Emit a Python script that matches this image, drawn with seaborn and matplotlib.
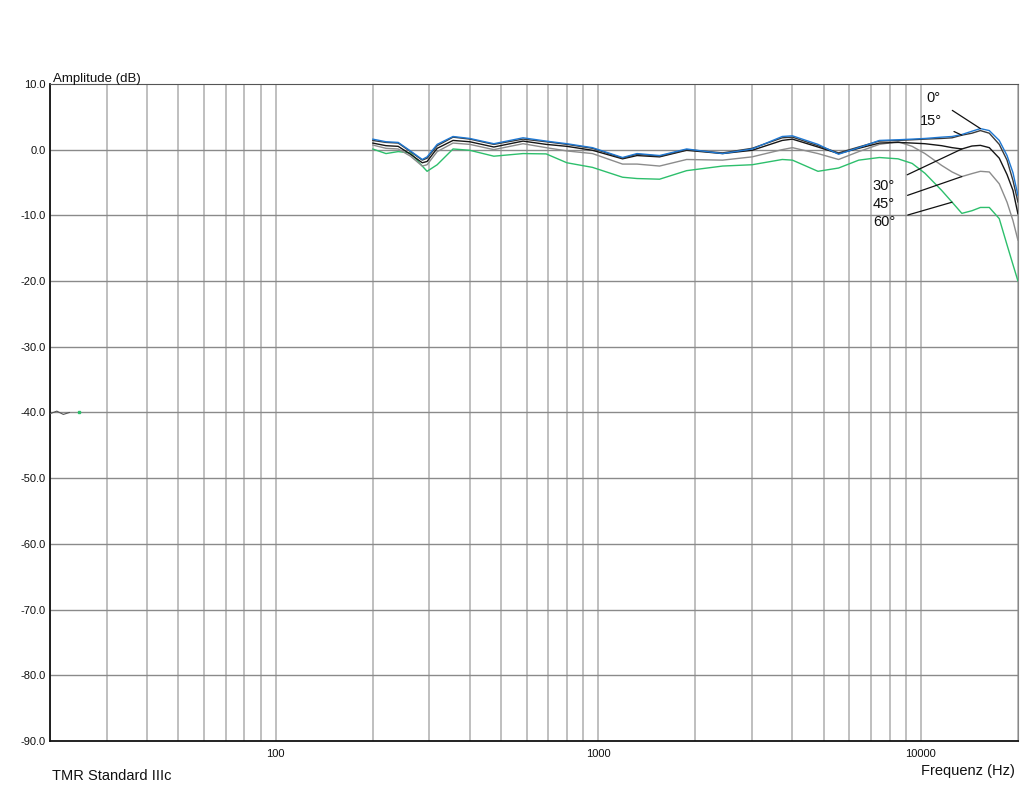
import numpy as np
import pandas as pd
import matplotlib
matplotlib.use('Agg')
import matplotlib.pyplot as plt
import seaborn as sns

# частоты, Гц
freq = [200, 220, 240, 262, 285, 295, 317, 355, 400, 475, 585, 690, 800, 960,
        1190, 1320, 1550, 1880, 2430, 3000, 3720, 4000, 4800, 5560, 6420, 7440,
        8500, 9400, 10300, 11600, 12500, 13400, 14400, 15300, 16300, 17500,
        18500, 19300, 20000]

# уровни, дБ
deg0 = [1.6, 1.2, 1.1, -0.2, -1.5, -1.1, 0.8, 2.0, 1.7, 0.9, 1.8, 1.3, 0.9, 0.3,
        -1.2, -0.6, -0.9, 0.1, -0.6, 0.1, 2.0, 2.1, 0.8, -0.7, 0.3, 1.4,
        1.5, 1.6, 1.7, 1.9, 2.0, 2.3, 2.8, 3.2, 2.9, 1.4,
        -0.9, -3.5, -7.0]
deg15 = [1.4, 1.1, 1.0, -0.3, -1.6, -1.3, 0.6, 1.9, 1.6, 0.8, 1.6, 1.2, 0.8, 0.2,
         -1.3, -0.7, -1.0, 0.0, -0.5, 0.2, 1.8, 1.9, 0.6, -0.5, 0.4, 1.3,
         1.4, 1.5, 1.6, 1.7, 1.8, 2.2, 2.5, 2.9, 2.5, 0.8,
         -1.6, -4.7, -8.0]
deg30 = [1.0, 0.6, 0.5, -0.7, -2.0, -1.8, 0.2, 1.4, 1.2, 0.4, 1.3, 0.8, 0.5, -0.1,
         -1.4, -0.9, -1.1, -0.1, -0.6, -0.1, 1.4, 1.6, 0.4, -0.6, 0.2, 1.0,
         1.1, 1.0, 0.9, 0.6, 0.3, 0.1, 0.55, 0.65, 0.3, -1.3,
         -3.8, -6.2, -9.8]
deg45 = [0.7, 0.2, 0.1, -1.0, -2.5, -2.3, -0.3, 1.0, 0.8, 0.0, 0.9, 0.3, -0.2, -0.6,
         -2.2, -2.2, -2.5, -1.5, -1.6, -1.1, 0.0, 0.3, -0.6, -1.5, -0.3, 0.8,
         1.2, 0.5, -0.6, -2.4, -3.4, -4.1, -3.65, -3.3, -3.4, -5.2,
         -8.0, -10.8, -13.8]
deg60 = [0.1, -0.6, -0.3, -0.5, -2.5, -3.3, -2.3, 0.1, -0.1, -1.0, -0.6, -0.65, -2.0, -2.7,
         -4.2, -4.4, -4.5, -3.2, -2.5, -2.3, -1.5, -1.6, -3.3, -2.8, -1.6, -1.2,
         -1.4, -2.1, -3.6, -6.2, -8.0, -9.7, -9.3, -8.8, -8.8, -10.5,
         -14.5, -17.5, -20.0]

angles = ['60°', '45°', '30°', '15°', '0°']
colors = {'0°': '#1f78d2', '15°': '#3a3a3a', '30°': '#161616',
          '45°': '#8c8c8c', '60°': '#2dbf6c'}

# мусор у левого края на -40 дБ
stray_freq = [20, 21, 22, 23]
stray_db = [-40.2, -39.8, -40.3, -40.0]
stray_dot_freq = [24.6]
stray_dot_db = [-40.0]

series = {'0°': deg0, '15°': deg15, '30°': deg30, '45°': deg45, '60°': deg60}
df = pd.concat([pd.DataFrame({'freq': freq, 'db': v, 'angle': k})
                for k, v in series.items()], ignore_index=True)

sns.set_style('white')
plt.rcParams['font.family'] = ['Liberation Sans Narrow', 'Liberation Sans', 'DejaVu Sans']

fig = plt.figure(figsize=(10.24, 7.94), dpi=100)
ax = fig.add_axes([0.0488, 0.0668, 0.9453, 0.8275])

ax.set_xscale('log')
ax.set_xlim(20, 20000)
ax.set_ylim(-90, 10)

# сетка
minor = [m * d for d in (10, 100, 1000) for m in range(2, 10)] + [20000]
for f in minor + [100, 1000, 10000]:
    ax.axvline(f, color='#b4b4b4', lw=1.2, zorder=1)
for y in range(-80, 10, 10):
    ax.axhline(y, color='#8a8a8a', lw=1.0, zorder=1)

sns.lineplot(data=df, x='freq', y='db', hue='angle', hue_order=angles,
             palette=colors, legend=False, sort=False, lw=1.0, ax=ax, zorder=3)
ax.plot(stray_freq, stray_db, color='#555555', lw=0.8, zorder=3)
ax.plot(stray_dot_freq, stray_dot_db, 's', color='#2dbf6c', ms=2, zorder=3)

ax.set_xticks([100, 1000, 10000])
ax.set_xticklabels(['100', '1000', '10000'])
ax.xaxis.set_minor_locator(matplotlib.ticker.NullLocator())
ax.set_yticks(range(-90, 11, 10))
ax.set_yticklabels([f'{v:.1f}' for v in range(-90, 11, 10)])
ax.tick_params(axis='both', length=0, labelsize=8, colors='#111111')
ax.tick_params(axis='x', pad=6)
ax.tick_params(axis='y', pad=3)
ax.set_xlabel('')
ax.set_ylabel('')

for side in ('left', 'bottom'):
    ax.spines[side].set_color('#111111')
    ax.spines[side].set_linewidth(1.3)
ax.spines['top'].set_color('#555555')
ax.spines['right'].set_color('#888888')

# подписи углов с выносками
labels = [('0°', 33, (10970, 7.8)), ('15°', 31, (10740, 4.4)),
          ('30°', 31, (7690, -5.5)), ('45°', 31, (7690, -8.2)),
          ('60°', 30, (7690, -11.0))]
for name, idx, txt in labels:
    ax.annotate(name, xy=(freq[idx], series[name][idx]), xytext=txt,
                textcoords='data', fontsize=10.5, ha='center', va='center',
                color='#111111',
                arrowprops=dict(arrowstyle='-', color='#111111', lw=0.9,
                                shrinkA=7, shrinkB=0))

fig.text(0.052, 0.897, 'Amplitude (dB)', fontsize=9.5, color='#111111')
fig.text(0.9915, 0.024, 'Frequenz (Hz)', fontsize=10.5, ha='right', color='#111111')
fig.text(0.051, 0.018, 'TMR Standard IIIc', fontsize=10.5, color='#111111')

fig.savefig('out.png', dpi=100)
